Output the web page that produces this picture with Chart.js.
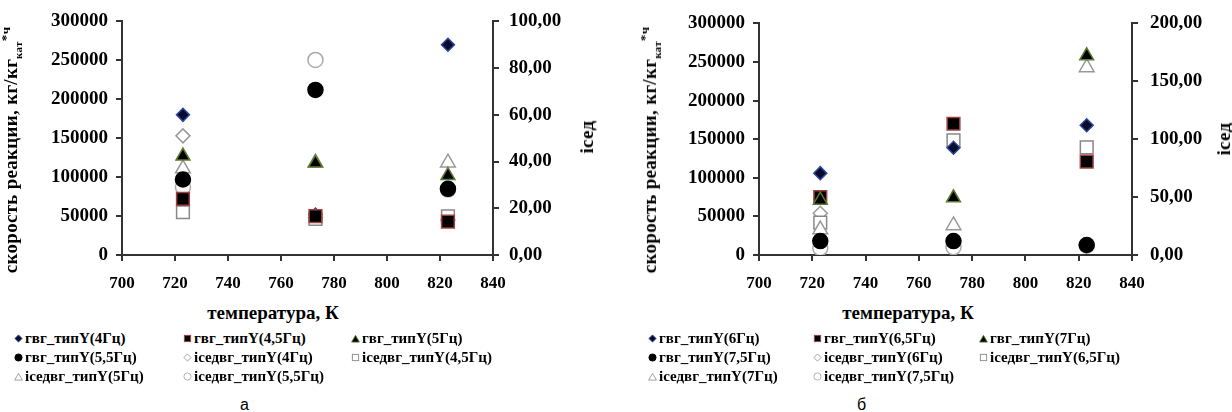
<!DOCTYPE html>
<html>
<head>
<meta charset="utf-8">
<script src="https://cdn.jsdelivr.net/npm/chart.js@4.4.1/dist/chart.umd.min.js"></script>
<style>
  body { margin: 0; background: #fff; width: 1232px; height: 412px; overflow: hidden; position: relative; }
  canvas { position: absolute; top: 0; }
  .serif { font-family: "Liberation Serif", "Times New Roman", "DejaVu Serif", serif; font-weight: bold; color: #000; }
  .vtitle { position: absolute; white-space: nowrap; transform: translate(-50%, -50%) rotate(-90deg); font-size: 19px; letter-spacing: 0.3px; }
  .htitle { position: absolute; white-space: nowrap; transform: translate(-50%, -50%); font-size: 19px; }
  .legend { position: absolute; top: 329px; display: grid; row-gap: 1px; font-size: 15px; line-height: 18px; }
  .legend svg { width: 9px; height: 9px; margin-right: 2px; vertical-align: 0px; }
  .cap { position: absolute; top: 396px; font-family: "Liberation Sans", "Noto Sans", sans-serif; font-size: 16px; }
</style>
</head>
<body>
<canvas id="chartA" width="610" height="300" style="left:0"></canvas>
<canvas id="chartB" width="622" height="300" style="left:610px"></canvas>

<div class="serif vtitle" style="left:11px;top:150px">скорость реакции, кг/кг<sub style="font-size:11px">кат</sub><sup style="font-size:13px">*ч</sup></div>
<div class="serif vtitle" style="left:587px;top:137px">ісед</div>
<div class="serif htitle" style="left:273px;top:313px">температура, К</div>

<div class="serif vtitle" style="left:650px;top:150px">скорость реакции, кг/кг<sub style="font-size:11px">кат</sub><sup style="font-size:13px">*ч</sup></div>
<div class="serif vtitle" style="left:1224px;top:139px">ісед</div>
<div class="serif htitle" style="left:908px;top:313px">температура, К</div>

<div class="serif legend" id="legendA" style="left:14px;grid-template-columns:169px 168px 180px"></div>
<div class="serif legend" id="legendB" style="left:648px;grid-template-columns:165px 166px 180px"></div>

<div class="cap" style="left:240px">а</div>
<div class="cap" style="left:857px">б</div>

<script>
// =========================
// DATA
// =========================
const temps = [723, 773, 823];

const xTicks = { min: 700, max: 840, step: 20 };
const rateTicks = { min: 0, max: 300000, step: 50000 };
const isedTicksA = { min: 0, max: 100, step: 20 };
const isedTicksB = { min: 0, max: 200, step: 50 };

// chart а
const namesA = [
  "гвг_типY(4Гц)", "гвг_типY(4,5Гц)", "гвг_типY(5Гц)", "гвг_типY(5,5Гц)",
  "іседвг_типY(4Гц)", "іседвг_типY(4,5Гц)", "іседвг_типY(5Гц)", "іседвг_типY(5,5Гц)"
];
const rate4 = [180000, 52000, 270000];
const rate45 = [72000, 50000, 43000];
const rate5 = [127000, 118000, 102000];
const rate55 = [97000, 212000, 85000];
const ised4 = [51, 16, 15];
const ised45 = [18.3, 15.5, 16.5];
const ised5 = [37, 39.5, 39.5];
const ised55 = [29, 83.5, 28];

// chart б
const namesB = [
  "гвг_типY(6Гц)", "гвг_типY(6,5Гц)", "гвг_типY(7Гц)", "гвг_типY(7,5Гц)",
  "іседвг_типY(6Гц)", "іседвг_типY(6,5Гц)", "іседвг_типY(7Гц)", "іседвг_типY(7,5Гц)"
];
const rate6 = [106000, 139000, 168000];
const rate65 = [75000, 170000, 121000];
const rate7 = [71000, 74000, 258000];
const rate75 = [18000, 18000, 13000];
const ised6 = [36, 8, 8];
const ised65 = [28, 99, 93];
const ised7 = [22, 25.5, 162];
const ised75 = [6, 6.8, 8];

// =========================
// MARKERS
// =========================
// order: lower = drawn on top (filled over hollow, like the excel original)
const markers = [
  { pointStyle: "rectRot", radius: 6.5, bg: "#0b0b2e", border: "#2a4a9a", order: 3 },
  { pointStyle: "rect", radius: 9, bg: "#000", border: "#a04040", order: 2 },
  { pointStyle: "triangle", radius: 8, bg: "#000", border: "#5a7a30", order: 1 },
  { pointStyle: "circle", radius: 7.5, bg: "#000", border: "#000", order: 0 },
  { pointStyle: "rectRot", radius: 7, bg: "#fff", border: "#999", order: 7 },
  { pointStyle: "rect", radius: 9, bg: "#fff", border: "#888", order: 6 },
  { pointStyle: "triangle", radius: 8.5, bg: "#fff", border: "#999", order: 5 },
  { pointStyle: "circle", radius: 7.5, bg: "#fff", border: "#aaa", order: 4 }
];

// legend icons, 10x10 box
const legendShapes = {
  rectRot: '<polygon points="5,1 9,5 5,9 1,5"/>',
  rect: '<rect x="1.5" y="1.5" width="7" height="7"/>',
  triangle: '<polygon points="5,1.5 9.3,9 0.7,9"/>',
  circle: '<circle cx="5" cy="5" r="4"/>'
};

const font = (size) => ({ family: "'Liberation Serif', 'Times New Roman', serif", weight: "bold", size: size });

function toPoints(values) {
  return values.map((v, i) => ({ x: temps[i], y: v }));
}

function makeDatasets(names, seriesList) {
  return seriesList.map((values, i) => ({
    label: names[i],
    data: toPoints(values),
    yAxisID: i < 4 ? "y" : "y2",
    order: markers[i].order,
    pointStyle: markers[i].pointStyle,
    pointRadius: markers[i].radius,
    pointBackgroundColor: markers[i].bg,
    pointBorderColor: markers[i].border,
    pointBorderWidth: 1.5,
    showLine: false
  }));
}

function axisLine() {
  return {
    grid: { drawOnChartArea: false, drawTicks: true, tickLength: 6, color: "#333", lineWidth: 2 },
    border: { display: true, color: "#333", width: 2 }
  };
}

// box = plot area inside canvas: left, right, top, bottom
function makeChart(id, names, seriesList, isedTicks, box, rightPad) {
  const canvas = document.getElementById(id);
  const W = canvas.width, H = canvas.height;

  return new Chart(canvas.getContext("2d"), {
    type: "scatter",
    data: { datasets: makeDatasets(names, seriesList) },
    options: {
      responsive: false,
      animation: false,
      layout: { padding: { top: box.top, left: 0, right: 0, bottom: 0 } },
      plugins: { legend: { display: false }, tooltip: { enabled: false } },
      scales: {
        x: {
          type: "linear", min: xTicks.min, max: xTicks.max,
          ...axisLine(),
          ticks: { stepSize: xTicks.step, color: "#000", font: font(17), padding: 12, maxRotation: 0 },
          afterFit: (s) => { s.height = H - box.bottom; }
        },
        y: {
          position: "left", min: rateTicks.min, max: rateTicks.max,
          ...axisLine(),
          ticks: { stepSize: rateTicks.step, color: "#000", font: font(19), padding: 8,
                   callback: (v) => String(v) },
          afterFit: (s) => { s.width = box.left; }
        },
        y2: {
          position: "right", min: isedTicks.min, max: isedTicks.max,
          ...axisLine(),
          ticks: { stepSize: isedTicks.step, color: "#000", font: font(19), padding: rightPad,
                   callback: (v) => v.toFixed(2).replace(".", ",") },
          afterFit: (s) => { s.width = W - box.right; }
        }
      }
    }
  });
}

function buildLegend(el, names) {
  names.forEach((name, i) => {
    const m = markers[i];
    const item = document.createElement("div");
    item.innerHTML =
      `<svg viewBox="0 0 10 10"><g fill="${m.bg}" stroke="${m.border}" stroke-width="1">${legendShapes[m.pointStyle]}</g></svg>${name}`;
    el.appendChild(item);
  });
}

function draw() {
  makeChart("chartA", namesA, [rate4, rate45, rate5, rate55, ised4, ised45, ised5, ised55],
    isedTicksA, { left: 122, right: 493, top: 20, bottom: 255 }, 10);

  makeChart("chartB", namesB, [rate6, rate65, rate7, rate75, ised6, ised65, ised7, ised75],
    isedTicksB, { left: 149, right: 522, top: 20, bottom: 255 }, 12);

  buildLegend(document.getElementById("legendA"), namesA);
  buildLegend(document.getElementById("legendB"), namesB);
}

document.fonts.load("bold 19px 'Liberation Serif'").then(draw, draw);
</script>
</body>
</html>
